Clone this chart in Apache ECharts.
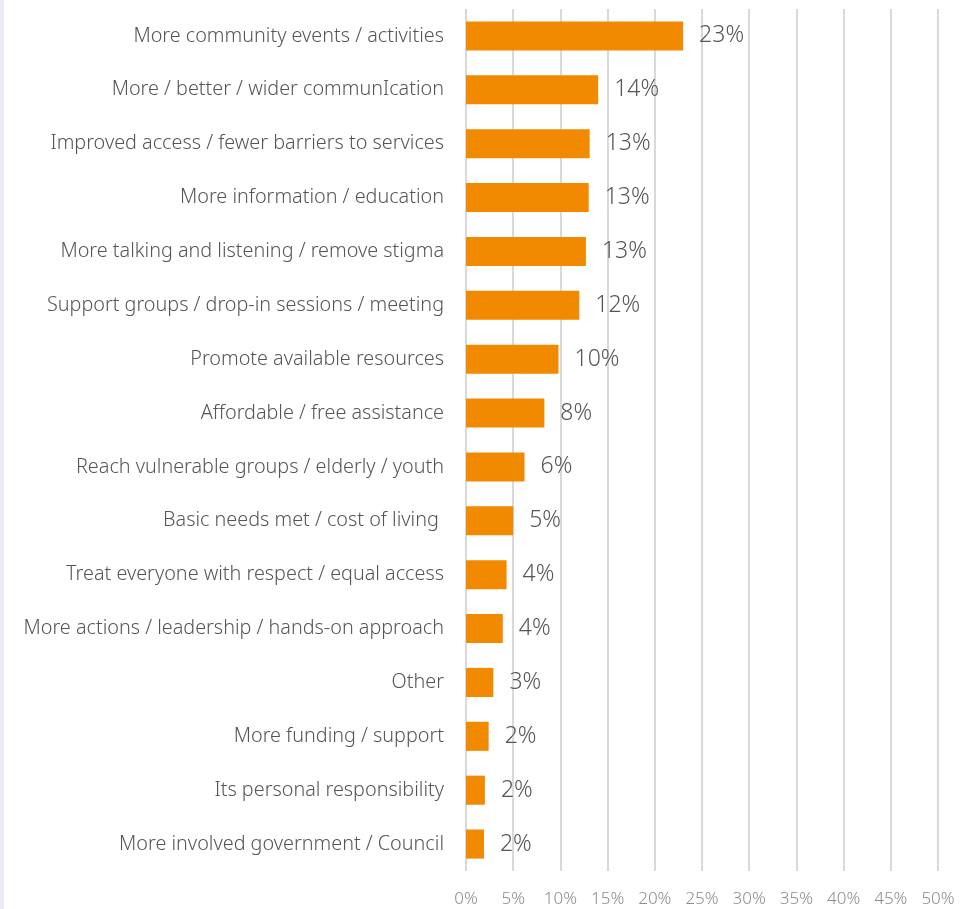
<!DOCTYPE html>
<html>
<head>
<meta charset="utf-8">
<script src="https://cdn.jsdelivr.net/npm/echarts@6/dist/echarts.min.js"></script>
<style>
  html, body { margin: 0; padding: 0; background: #ffffff; }
  #chart { width: 963px; height: 909px; border-left: 4px solid #e9ebf2; }
</style>
</head>
<body>
<div id="chart"></div>
<script>
// Survey responses, listed top to bottom
const categories = [
  'More community events / activities',
  'More / better / wider communIcation',
  'Improved access / fewer barriers to services',
  'More information / education',
  'More talking and listening / remove stigma',
  'Support groups / drop-in sessions / meeting',
  'Promote available resources',
  'Affordable / free assistance',
  'Reach vulnerable groups / elderly / youth',
  'Basic needs met / cost of living ',
  'Treat everyone with respect / equal access',
  'More actions / leadership / hands-on approach',
  'Other',
  'More funding / support',
  'Its personal responsibility',
  'More involved government / Council'
];

// Share of respondents (%)
const shares = [23.0, 14.0, 13.1, 13.0, 12.7, 12.0, 9.8, 8.3, 6.2, 5.0, 4.3, 3.9, 2.9, 2.4, 2.0, 1.9];

// Value axis ticks (%)
const axisMin = 0;
const axisMax = 50;
const axisStep = 5;

const font = 'Noto Sans';

const chart = echarts.init(document.getElementById('chart'));
chart.setOption({
  animation: false,
  textStyle: { fontFamily: font },
  grid: { left: 462, right: 29, top: 9, bottom: 38, containLabel: false },
  xAxis: {
    type: 'value',
    min: axisMin,
    max: axisMax,
    interval: axisStep,
    axisLine: { show: false },
    axisTick: { show: false },
    splitLine: { show: true, lineStyle: { color: '#d9d9d9', width: 2 } },
    axisLabel: {
      formatter: v => v + '%',
      color: '#8c8c8c',
      fontSize: 17,
      fontWeight: 300,
      margin: 20
    }
  },
  yAxis: {
    type: 'category',
    inverse: true,
    data: categories,
    axisLine: { show: false },
    axisTick: { show: false },
    axisLabel: {
      color: '#555555',
      fontSize: 19.8,
      fontWeight: 300,
      margin: 22
    }
  },
  series: [{
    type: 'bar',
    data: shares,
    barCategoryGap: '46%',
    itemStyle: { color: '#f18a00' },
    label: {
      show: true,
      position: 'right',
      distance: 16,
      formatter: p => Math.round(p.value) + '%',
      color: '#555555',
      fontSize: 23,
      fontWeight: 300
    }
  }]
});
</script>
</body>
</html>
